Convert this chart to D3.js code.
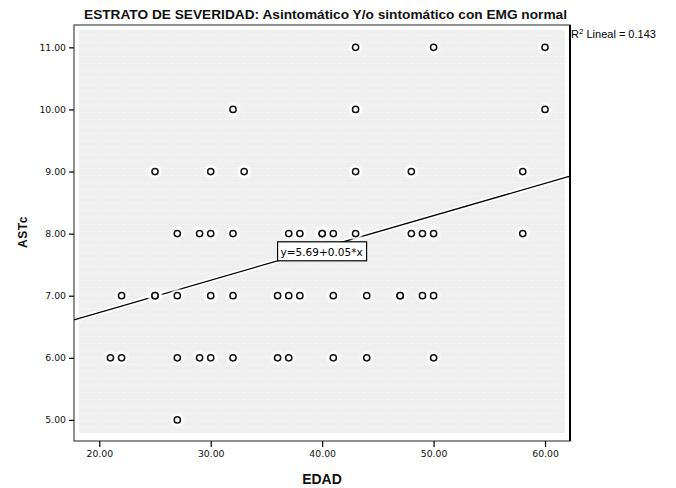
<!DOCTYPE html>
<html><head><meta charset="utf-8">
<script src="https://cdn.jsdelivr.net/npm/d3@7"></script>
<style>body{margin:0;background:#fff}</style>
</head><body><svg id="c" width="676" height="488"></svg>
<script>
const title = "ESTRATO DE SEVERIDAD: Asintomático Y/o sintomático con EMG normal";
const xLabel = "EDAD";
const yLabel = "ASTc";
const xTicks = [20, 30, 40, 50, 60];
const yTicks = [5, 6, 7, 8, 9, 10, 11];
const edad = [43,50,60, 32,43,60, 25,30,33,43,48,58,
  27,29,30,32,37,38,40,40,41,43,48,49,50,58,
  22,25,25,27,30,32,36,37,38,41,44,47,47,49,50,
  21,22,27,29,30,32,36,37,41,44,50, 27];
const astc = [11,11,11, 10,10,10, 9,9,9,9,9,9,
  8,8,8,8,8,8,8,8,8,8,8,8,8,8,
  7,7,7,7,7,7,7,7,7,7,7,7,7,7,7,
  6,6,6,6,6,6,6,6,6,6,6, 5];
const fitIntercept = 5.69;
const fitSlope = 0.052;
const fitLabel = "y=5.69+0.05*x";
const fitLabelAt = 36;
const r2Value = "0.143";

const svg = d3.select("#c");
const m = {left: 74, top: 25, right: 106, bottom: 47};
const W = 676 - m.left - m.right, H = 488 - m.top - m.bottom;
const x = d3.scaleLinear().domain([17.73, 62.24]).range([0, W]);
const y = d3.scaleLinear().domain([4.66, 11.36]).range([H, 0]);
const g = svg.append("g").attr("transform", `translate(${m.left},${m.top})`);

const defs = svg.append("defs");
const pat = defs.append("pattern").attr("id","dots").attr("width",3).attr("height",7).attr("patternUnits","userSpaceOnUse");
pat.append("rect").attr("width",3).attr("height",7).attr("fill","#efefef");
pat.append("rect").attr("x",0).attr("y",3).attr("width",1).attr("height",1).attr("fill","#f9f9f9");
defs.append("filter").attr("id","soft").append("feGaussianBlur").attr("stdDeviation",1);

g.append("rect").attr("x",5).attr("y",5).attr("width",W-10).attr("height",H-13)
  .attr("rx",3).attr("fill","url(#dots)");

const fitData = x.domain().map(d => [d, fitIntercept + fitSlope * d]);
const line = d3.line().x(d => x(d[0])).y(d => y(d[1]));
g.append("path").datum(fitData).attr("d", line).attr("fill","none")
  .attr("stroke","#fff").attr("stroke-width",5);
g.append("path").datum(fitData).attr("d", line).attr("fill","none")
  .attr("stroke","#000").attr("stroke-width",1.3);

const pts = edad.map((e,i)=>({x:e, y:astc[i]}));
g.append("g").selectAll("circle").data(pts).join("circle")
  .attr("cx", d=>x(d.x)).attr("cy", d=>y(d.y)).attr("r",6.5)
  .attr("fill","#fff").attr("filter","url(#soft)");
g.append("g").selectAll("circle").data(pts).join("circle")
  .attr("cx", d=>x(d.x)).attr("cy", d=>y(d.y)).attr("r",3.1)
  .attr("fill","#fff").attr("stroke","#111").attr("stroke-width",1.5);

const lx = x(fitLabelAt), ly = y(fitIntercept + fitSlope*fitLabelAt);
const lbl = g.append("g").attr("transform",`translate(${lx},${ly})`);
lbl.append("rect").attr("x",0).attr("y",-19).attr("width",89).attr("height",19)
  .attr("fill","#fff").attr("stroke","#000").attr("stroke-width",1.2);
lbl.append("text").attr("x",3).attr("y",-5).attr("font-family","DejaVu Sans")
  .attr("font-size",10.5).attr("fill","#000").text(fitLabel);

g.append("rect").attr("width",W).attr("height",H).attr("fill","none")
  .attr("stroke","#222").attr("stroke-width",1);
g.append("line").attr("x1",W).attr("x2",W).attr("y1",0).attr("y2",H)
  .attr("stroke","#000").attr("stroke-width",2);

const fmt = d3.format(".2f");
const ya = g.append("g").call(d3.axisLeft(y).tickValues(yTicks).tickFormat(fmt).tickSize(5).tickPadding(3));
const xa = g.append("g").attr("transform",`translate(0,${H})`)
  .call(d3.axisBottom(x).tickValues(xTicks).tickFormat(fmt).tickSize(6).tickPadding(3));
[ya, xa].forEach(a => {
  a.select(".domain").remove();
  a.selectAll("line").attr("stroke","#000").attr("stroke-width",1.2);
  a.selectAll("text").attr("font-family","DejaVu Sans").attr("font-size",9.3).attr("fill","#111");
});

svg.append("text").attr("x",325.5).attr("y",19).attr("text-anchor","middle")
  .attr("font-family","Liberation Sans").attr("font-weight","bold").attr("font-size",13)
  .attr("textLength",483).attr("lengthAdjust","spacingAndGlyphs").attr("fill","#111").text(title);
svg.append("text").attr("x",322).attr("y",484).attr("text-anchor","middle")
  .attr("font-family","Liberation Sans").attr("font-weight","bold").attr("font-size",14)
  .attr("fill","#111").text(xLabel);
svg.append("text").attr("transform","translate(27,232) rotate(-90)").attr("text-anchor","middle")
  .attr("font-family","Liberation Sans").attr("font-weight","bold").attr("font-size",12)
  .attr("letter-spacing",0.5).attr("fill","#111").text(yLabel);

const r2 = svg.append("text").attr("x",571).attr("y",38)
  .attr("font-family","Liberation Sans").attr("font-size",11).attr("fill","#000");
r2.append("tspan").text("R");
r2.append("tspan").attr("dy",-4).attr("font-size",8).text("2");
r2.append("tspan").attr("dy",4).text(" Lineal = " + r2Value);
</script></body></html>
